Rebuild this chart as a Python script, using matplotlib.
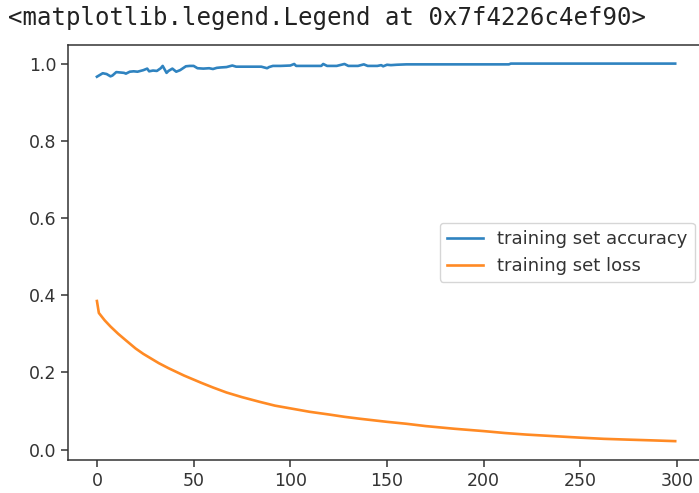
import matplotlib
matplotlib.use("Agg")
import matplotlib.pyplot as plt

# values
acc_epochs = [0, 2, 3, 5, 7, 8, 10, 12, 14, 15, 17, 19, 21, 24, 26, 27, 29, 31, 33, 34,
              36, 37, 39, 41, 43, 46, 48, 50, 52, 55, 58, 60, 62, 64, 67, 70, 72, 76, 80, 85,
              88, 89, 91, 95, 100, 102, 103, 107, 112, 116, 117, 119, 124, 128, 130, 135, 138, 140,
              145, 147, 148, 150, 152, 155, 160, 213, 214, 299]
acc_values = [0.966, 0.972, 0.975, 0.973, 0.967, 0.969, 0.978, 0.977, 0.976, 0.974,
              0.979, 0.980, 0.979, 0.983, 0.987, 0.980, 0.982, 0.981, 0.988, 0.994,
              0.976, 0.981, 0.987, 0.979, 0.983, 0.993, 0.994, 0.994, 0.988, 0.987,
              0.988, 0.986, 0.989, 0.990, 0.991, 0.995, 0.992, 0.992, 0.992, 0.992,
              0.988, 0.991, 0.994, 0.994, 0.995, 0.999, 0.994, 0.994, 0.994, 0.994,
              0.999, 0.994, 0.994, 0.999, 0.994, 0.994, 0.998, 0.994,
              0.994, 0.996, 0.993, 0.997, 0.996, 0.997, 0.998, 0.998, 1.0, 1.0]

loss_epochs = [0, 1, 4, 7, 11, 15, 20, 24, 28, 32, 37, 45, 54, 60, 67, 75, 84, 92, 101, 110,
               120, 128, 136, 150, 160, 170, 185, 200, 211, 222, 236, 250, 262, 274, 287, 299]
loss_values = [0.385, 0.354, 0.335, 0.319, 0.300, 0.283, 0.262, 0.248, 0.236, 0.224,
               0.211, 0.192, 0.173, 0.161, 0.148, 0.136, 0.124, 0.114, 0.106, 0.098,
               0.091, 0.085, 0.080, 0.072, 0.067, 0.061, 0.054, 0.048, 0.043, 0.039,
               0.035, 0.031, 0.028, 0.026, 0.024, 0.022]

fig = plt.figure(figsize=(6.99, 4.93), dpi=100)
ax = fig.add_axes([0.0973, 0.0669, 0.910, 0.8424])

ax.plot(acc_epochs, acc_values, color="#2f83c0", lw=1.9, label="training set accuracy")
ax.plot(loss_epochs, loss_values, color="#ff8a24", lw=1.9, label="training set loss")

ax.set_xticks([0, 50, 100, 150, 200, 250, 300])
ax.set_yticks([0.0, 0.2, 0.4, 0.6, 0.8, 1.0])
ax.tick_params(labelsize=12.5, length=5, width=1.1, colors="#333333", labelcolor="#333333")
for s in ax.spines.values():
    s.set_linewidth(1.1)
    s.set_color("#333333")

leg = ax.legend(loc="center right", fontsize=13, handlelength=2.0)
for t in leg.get_texts():
    t.set_color("#333333")

fig.text(8 / 699, 1 - 25 / 493, "<matplotlib.legend.Legend at 0x7f4226c4ef90>",
         family="DejaVu Sans Mono", fontsize=17.3, color="#222222", va="baseline")

fig.savefig("out.png", dpi=100)
